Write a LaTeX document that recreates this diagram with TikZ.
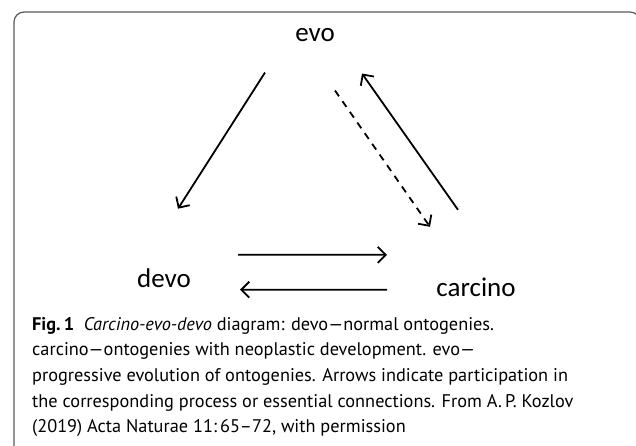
\documentclass[tikz,border=0pt]{standalone}
\usepackage{fontspec}
\usepackage{tikz}
\usetikzlibrary{positioning,calc,arrows.meta}
\setmainfont{PT Sans}
\newfontfamily\labelfont{Carlito}

\tikzset{
  term/.style={font=\labelfont\fontsize{27}{30}\selectfont, inner sep=0pt, anchor=base},
  arr/.style={line width=1.8pt, -{Straight Barb[length=8pt,width=16pt,line width=1.8pt]}},
  dasharr/.style={arr, dash pattern=on 7pt off 6pt}
}

\begin{document}
\begin{tikzpicture}[x=1pt, y=-1pt]
    \useasboundingbox (0,0) rectangle (636,446);
    % frame
    \draw[gray!70!black, line width=1.2pt, rounded corners=10pt] (14,470) -- (14,12) -- (640,12) -- (640,470);

    % the three terms
    \node[term] (evo) at (315,42) {evo};
    \node[term] (devo) at (164,287) {devo};
    \node[term] (carcino) at (476,296) {carcino};

    % connections
    \draw[arr] ($(evo)+(-50,37)$) -- ($(devo)+(14,-69)$);
    \draw[dasharr] ($(evo)+(20,55)$) -- ($(carcino)+(-46,-60)$);
    \draw[arr] ($(carcino)+(-18,-77)$) -- ($(evo)+(47,38)$);
    \draw[arr] ($(devo)+(74,-23)$) -- ($(carcino)+(-89,-32)$);
    \draw[arr] ($(carcino)+(-89,3)$) -- ($(devo)+(76,12)$);

    % caption
    \node[anchor=north west, inner sep=0pt, align=left,
          font=\fontsize{18.3}{25.6}\selectfont] (caption) at (32,317)
      {\textbf{Fig.\,1}\ \ \textit{Carcino-evo-devo} diagram: devo---normal ontogenies.\\
       carcino---ontogenies with neoplastic development. evo---\\
       progressive evolution of ontogenies. Arrows indicate participation in\\
       the corresponding process or essential connections. From A.\,P. Kozlov\\
       (2019) Acta Naturae 11:\,65--72, with permission};
\end{tikzpicture}
\end{document}
